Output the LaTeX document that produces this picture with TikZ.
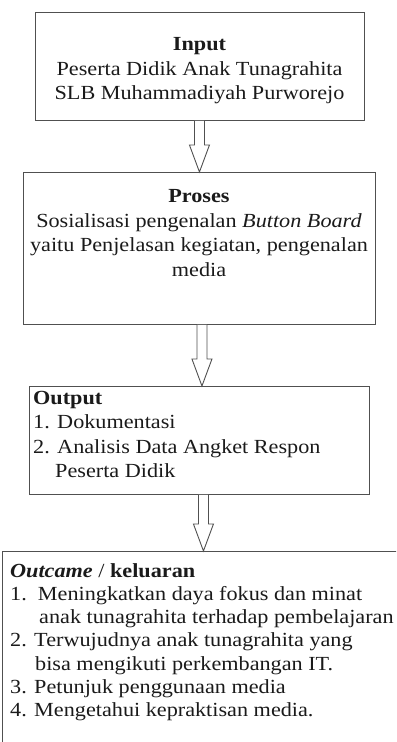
\documentclass[tikz,border=0pt]{standalone}
\usepackage{fontspec}
\setmainfont{Liberation Serif}[FakeStretch=1.11]
\usetikzlibrary{calc}
\definecolor{linegray}{HTML}{505050}
\definecolor{txtcol}{HTML}{1A1A1A}
\tikzset{
  box/.style={draw=linegray, line width=0.9bp, rectangle, inner sep=0pt, anchor=north west},
  txt/.style={inner sep=0pt, text=txtcol, font=\fontsize{20bp}{24.5bp}\selectfont},
  blockarr/.style={draw=linegray, line width=0.9bp, line join=miter, fill=white}
}
\newcommand\blkarrow[3]{%
  \draw[blockarr] let \p1=(#1.south), \p2=(#2.north) in
    ({\x1+#3bp-5bp},\y1) -- ({\x1+#3bp-5bp},{\y2+27bp}) -- ({\x1+#3bp-10bp},{\y2+27bp})
    -- ({\x1+#3bp},\y2) -- ({\x1+#3bp+10bp},{\y2+27bp}) -- ({\x1+#3bp+5bp},{\y2+27bp})
    -- ({\x1+#3bp+5bp},\y1);}
\begin{document}
\begin{tikzpicture}[x=1bp,y=-1bp]
\useasboundingbox (0,0) rectangle (396,742);
\begin{scope}
\clip (0,0) rectangle (396,742);
\node[box, minimum width=329bp, minimum height=108bp] (input) at (35,12) {};
\node[box, minimum width=352bp, minimum height=152bp] (proses) at (23,172) {};
\node[box, minimum width=340bp, minimum height=108bp] (output) at (29,386) {};
\node[box, minimum width=420bp, minimum height=220bp] (outcome) at (2,551) {};

\node[txt, align=center, anchor=north] (inputtxt) at (199.5,37.5)
  {\textbf{Input}\\Peserta Didik Anak Tunagrahita\\SLB Muhammadiyah Purworejo};
\node[txt, align=center, anchor=north] (prosestxt) at (199,189.5)
  {\textbf{Proses}\\Sosialisasi pengenalan \textit{Button Board}\\yaitu Penjelasan kegiatan, pengenalan\\media};
\node[txt, align=left, anchor=north west] (outputtxt) at (33,391)
  {\textbf{Output}\\1. Dokumentasi\\2. Analisis Data Angket Respon\\\hspace*{22bp}Peserta Didik};
\node[txt, align=left, anchor=north west, font=\fontsize{20bp}{23.3bp}\selectfont] (outcometxt) at (10,563)
  {\textbf{\textit{Outcame}} / \textbf{keluaran}\\1.\ \ Meningkatkan daya fokus dan minat\\\hspace*{29bp}anak tunagrahita terhadap pembelajaran\\2. Terwujudnya anak tunagrahita yang\\\hspace*{25bp}bisa mengikuti perkembangan IT.\\3. Petunjuk penggunaan media\\4. Mengetahui kepraktisan media.};

\blkarrow{input}{proses}{-0.5}
\blkarrow{proses}{output}{2.5}
\blkarrow{output}{outcome}{4}
\end{scope}
\end{tikzpicture}
\end{document}
